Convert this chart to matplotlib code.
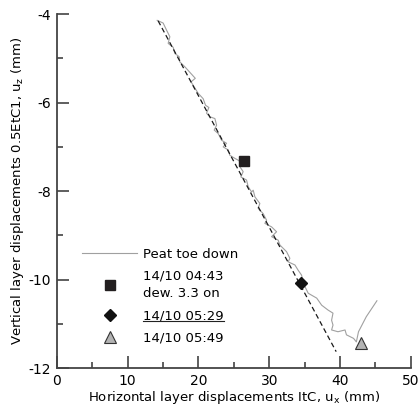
import matplotlib
matplotlib.use("Agg")
import matplotlib.pyplot as plt
from matplotlib.lines import Line2D
from matplotlib.ticker import MultipleLocator

# Measured series (Peat toe down)
peat_x = [14.17, 15.01, 15.49, 15.96, 15.72, 16.43, 16.67, 17.27, 17.37, 18.08,
          18.70, 19.55, 18.95, 19.96, 20.66, 21.00, 21.47, 21.14, 21.61, 22.32,
          22.56, 22.22, 22.79, 23.26, 23.97, 23.49, 24.20, 24.43, 25.14, 25.60,
          26.10, 25.85, 26.31, 25.99, 26.79, 27.02, 27.50, 27.73, 27.97, 28.67,
          28.43, 29.14, 29.62, 29.38, 30.33, 31.03, 30.33, 31.26, 31.50, 32.44,
          32.91, 32.67, 33.62, 34.08, 34.56, 34.79, 35.50, 36.70, 37.40, 38.30,
          39.00, 38.80, 39.00, 38.80, 39.70, 40.70, 40.90, 41.90, 42.30, 42.60,
          43.70, 45.20]
peat_y = [-4.14, -4.20, -4.36, -4.51, -4.66, -4.75, -4.89, -4.96, -5.08, -5.19,
          -5.30, -5.45, -5.53, -5.79, -5.91, -6.06, -6.11, -6.24, -6.32, -6.36,
          -6.51, -6.62, -6.70, -6.85, -6.92, -7.00, -7.07, -7.19, -7.26, -7.30,
          -7.36, -7.45, -7.56, -7.68, -7.75, -7.90, -8.02, -7.98, -8.13, -8.28,
          -8.39, -8.51, -8.66, -8.73, -8.81, -8.92, -9.03, -9.11, -9.22, -9.37,
          -9.52, -9.60, -9.67, -9.79, -9.90, -10.08, -10.31, -10.42, -10.58, -10.69,
          -10.76, -10.92, -11.03, -11.14, -11.18, -11.14, -11.25, -11.33, -11.41, -11.18,
          -10.84, -10.48]

# Trend line
trend_x = [14.3, 39.45]
trend_y = [-4.15, -11.63]

# Key instants
sq_x, sq_y = [26.37], [-7.31]
dia_x, dia_y = [34.55], [-10.07]
tri_x, tri_y = [43.0], [-11.44]

labels = ["Peat toe down", "14/10 04:43\ndew. 3.3 on", "14/10 05:29", "14/10 05:49"]

plt.rcParams['font.family'] = ['DejaVu Sans']
plt.rcParams['axes.unicode_minus'] = False
fig = plt.figure(figsize=(4.18, 4.17), dpi=100)
ax = fig.add_axes([0.136, 0.1175, 0.847, 0.8485])

ax.plot(peat_x, peat_y, color='#a0a0a0', lw=0.8, label=labels[0], zorder=2)
ax.plot(trend_x, trend_y, color='#1a1a1a', lw=0.9, ls=(0, (4, 2.5)), zorder=3)
ax.plot(sq_x, sq_y, ls='none', marker='s', ms=7.5, color='#231f20', label=labels[1], zorder=4)
ax.plot(dia_x, dia_y, ls='none', marker='D', ms=6.5, color='#111111', label=labels[2], zorder=4)
ax.plot(tri_x, tri_y, ls='none', marker='^', ms=8.5, mfc='#b3b3b3', mec='#333333', mew=0.8,
        label=labels[3], zorder=4)

ax.set_xlim(0, 50)
ax.set_ylim(-12, -4)
ax.xaxis.set_major_locator(MultipleLocator(10))
ax.xaxis.set_minor_locator(MultipleLocator(5))
ax.yaxis.set_major_locator(MultipleLocator(2))
ax.yaxis.set_minor_locator(MultipleLocator(1))
for s in ['top', 'right']:
    ax.spines[s].set_visible(False)
for s in ['left', 'bottom']:
    ax.spines[s].set_linewidth(1.3)
    ax.spines[s].set_color('#444444')
ax.tick_params(which='major', direction='in', length=8.5, width=1.1, color='#333333',
               labelsize=10, pad=4)
ax.tick_params(which='minor', direction='in', length=4.5, width=1.1, color='#333333')

ax.set_xlabel("Horizontal layer displacements ItC, u$_\\mathregular{x}$ (mm)", fontsize=9.5, labelpad=1)
ax.set_ylabel("Vertical layer displacements 0.5EtC1, u$_\\mathregular{z}$ (mm)", fontsize=9.5, labelpad=2)

leg = ax.legend(loc='upper left', bbox_to_anchor=(0.063, 0.348), borderaxespad=0, frameon=False,
                fontsize=9.5, handlelength=4.2, handletextpad=0.45, labelspacing=0.7, borderpad=0.2)
for t in leg.get_texts():
    t.set_linespacing(1.45)

fig.canvas.draw()
# underline the third legend entry
t = leg.get_texts()[2]
bb = t.get_window_extent(fig.canvas.get_renderer())
inv = fig.transFigure.inverted()
(x0, y0), (x1, y1) = inv.transform([(bb.x0, bb.y0 + 1), (bb.x1, bb.y0 + 1)])
fig.add_artist(Line2D([x0, x1], [y0, y1], transform=fig.transFigure, color='#222222', lw=0.8))

fig.savefig("out.png", dpi=100)
